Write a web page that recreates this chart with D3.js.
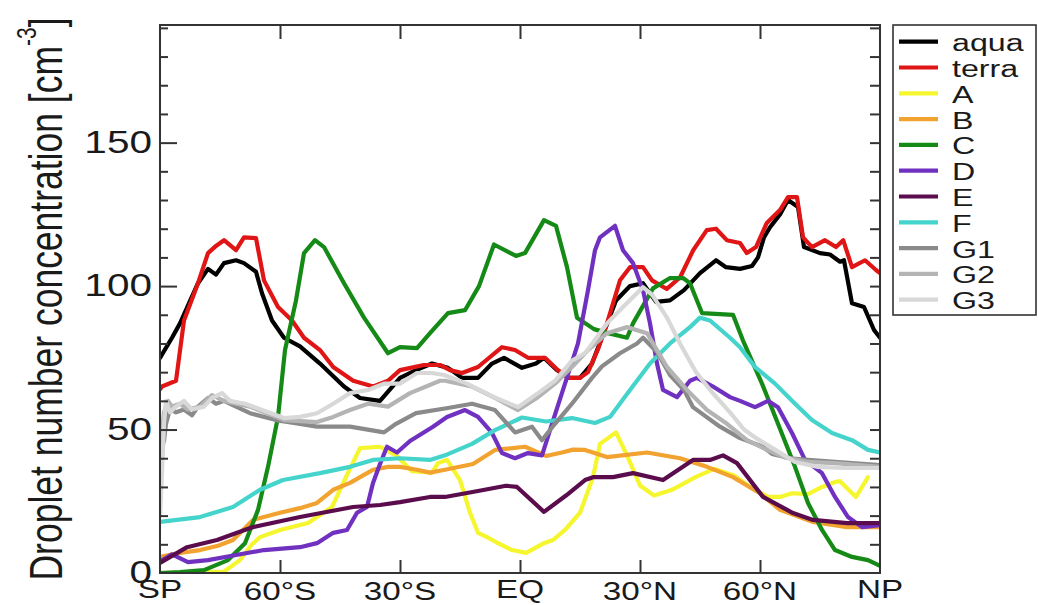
<!DOCTYPE html>
<html>
<head>
<meta charset="utf-8">
<script src="https://cdn.jsdelivr.net/npm/d3@7"></script>
<style>
  html, body { margin: 0; padding: 0; background: #fff; }
  svg { display: block; font-family: "Liberation Sans", Arial, Helvetica, sans-serif; }
</style>
</head>
<body>
<svg id="chart" width="1038" height="605"></svg>
<script>
// ---- data: zonal mean droplet number concentration [cm^-3] vs latitude ----
const latTickValues = [-90, -60, -30, 0, 30, 60, 90];
const latTickLabels = ["SP", "60°S", "30°S", "EQ", "30°N", "60°N", "NP"];
const yMajorTicks = [0, 50, 100, 150];

const aqua = [[-90,75],[-87,82],[-85,87],[-80.5,101],[-78,106],[-76,104],[-74,108],[-71,109],[-69,108],[-66,105],[-64.5,97.5],[-62,88],[-59,82],[-55,79],[-50,73],[-44,65],[-40,61],[-35,60],[-32.5,64],[-30,68],[-26,70.7],[-22,73],[-18,71.5],[-14.5,68],[-10.5,68],[-7,73],[-4,75],[0.5,71.5],[4,73],[6,75],[9,71],[12,68],[15,68],[18,73],[21,84],[24,95],[27.5,100],[30.75,101],[34,94.5],[37.5,95],[41,98.6],[45,104.5],[49,109],[51.5,106.6],[55,106],[58,107],[59.5,110],[61,117],[62.5,120.5],[65,125],[67,130],[69.5,127.6],[71,113.6],[75,111.5],[77.5,111],[80,108.5],[81,109],[83,94],[86,92.7],[88.5,84.7],[90,82]];
const terra = [[-90,64],[-89.5,65],[-86,67],[-84,88],[-80.5,101],[-78,111.5],[-76,114],[-74,116],[-71,112.5],[-69,117],[-66,116.7],[-64,102],[-60.5,92.7],[-57,88],[-54,82],[-50,77.7],[-46.7,71.8],[-41.7,67],[-36.7,65],[-33,67],[-30,70.7],[-24,72.5],[-20,72.5],[-17.5,70.7],[-14.5,69.7],[-10.5,71.8],[-4.5,78.7],[-1.25,77.7],[2,75],[6.25,75],[9.5,70.7],[12,68],[15,68],[17,70],[19.5,78],[21.75,87],[25,102],[27.5,106.6],[30.75,106.6],[33,102],[36.7,99],[40,103],[43.3,112.5],[46.7,119.5],[49,120],[51.7,116],[55,115],[56.7,111.5],[59,113.6],[61.7,122],[65,126.5],[67,131],[69.25,131],[70.75,117],[73,113.6],[76.25,116],[79,113.6],[80.8,116],[83,106.6],[86.25,109],[89,105.6],[90,104.5]];
const modelA = [[-90,0],[-74,0.5],[-70,4.5],[-67,10],[-65,12.5],[-60,15],[-53,17.4],[-47,23],[-43.3,34],[-40,43.5],[-35,44],[-31,41],[-27,35.5],[-22,35],[-20.5,38.3],[-18.25,39.4],[-15,32.4],[-12.5,21],[-10.5,14],[-8.25,12.5],[-6,10.8],[-2,8],[1.5,7],[6,10.4],[8.25,11.5],[11.25,15],[15,21],[18.25,33.4],[20,45],[22,47],[24,49],[26.75,41],[30,30.5],[33.5,27],[38,29],[44,33.5],[48.5,36.3],[53.5,34],[58,29.5],[62,26.5],[65,26.5],[68,27.8],[72,27.5],[75.5,30],[79,31.8],[80,32],[84,26.5],[87,33.4]];
const modelB = [[-90,5.6],[-85,7],[-80,8],[-75.5,9.5],[-71.75,11.5],[-66.75,18.5],[-60,21],[-55,22.6],[-50.75,24.4],[-46.7,29],[-42.5,31.4],[-38,35],[-36.75,36],[-33,37],[-30,37],[-25.75,36],[-22.5,35],[-18.75,36],[-11.75,38],[-6.25,42.9],[1.25,44],[6.5,40.8],[10.5,42],[13.25,43],[16.25,42.9],[21.75,40.4],[31.75,42],[40,40],[46.75,37],[53.25,33.4],[60,27.8],[65,22],[73.25,17.8],[81.75,16],[90,16]];
const modelC = [[-90,0],[-85,0.3],[-79,1],[-73,4.5],[-68.75,10.4],[-65.5,22],[-63,37],[-60.5,54.4],[-58.75,77.7],[-56,95],[-54,111.5],[-51.25,116],[-49,113.6],[-44,101],[-39,89],[-33,76.6],[-30,78.7],[-25.75,78.4],[-22.5,83.6],[-18,90.6],[-13.75,91.6],[-10.25,100],[-6.5,114.5],[-1,110.5],[1.25,111.5],[6,123],[9,121],[11.75,106.6],[14.25,89],[18.5,85],[22,83.6],[26.75,82],[28.25,87],[33.25,99.2],[37.5,102.8],[40.75,102.8],[42.5,101],[45.5,90.6],[53.25,90],[55.75,81],[60.5,66],[64.5,52],[68.75,37],[72,24.4],[75.5,15],[78.75,8],[83,5.6],[87,4.5],[90,2.5]];
const modelD = [[-90,4],[-87,6.5],[-83,3.8],[-78,4.5],[-72,6],[-64,8],[-55,9],[-50.75,10.4],[-46.7,14],[-43.25,15],[-40.75,21],[-38.25,23],[-36.75,31.4],[-35,38],[-33.25,44],[-30.75,42],[-27.5,46],[-21.75,51],[-18.25,54.4],[-13.75,56.8],[-10.5,54.4],[-7,48.8],[-4.5,41.8],[-1.25,40],[2,41.8],[5.5,41],[8,52],[11.25,66],[14.5,80],[17,98.6],[18.75,112.5],[20,117],[23.75,121],[25.75,112.5],[28.25,108],[30.75,98.6],[32.5,87],[34.25,73],[35.75,63.8],[39.25,61.3],[42.5,67],[44.25,68],[48.25,65],[52.5,61.3],[55,60],[58.75,57.8],[62,60],[64.5,57.8],[68,48.8],[71.25,39.4],[75.5,34.8],[78.75,26.5],[82,19.5],[85.5,16],[90,16.7]];
const modelE = [[-90,3.5],[-83.25,9],[-75.75,11.5],[-66.75,16],[-55,19.5],[-41.75,23],[-35,23.7],[-30,24.7],[-22.5,26.5],[-18.75,26.5],[-10.5,28.6],[-3.5,30.4],[-0.75,30],[6,21.3],[11.5,27],[16.25,32.4],[18.25,33.4],[23.25,33.4],[28.25,34.8],[35.75,32.4],[43.25,39.4],[47.5,39.4],[50.75,41],[54.25,38.3],[60.75,26.5],[68.25,20.9],[73.25,18.5],[81.75,17.4],[90,17.4]];
const modelF = [[-90,17.8],[-80,19.5],[-71.75,23],[-65,29],[-59.25,32.4],[-50,34.8],[-42.5,37],[-36.75,39.4],[-30,40],[-22.5,39.4],[-18.75,41],[-12,45],[-6.25,49.8],[0.5,54.2],[6.5,52.8],[13,54],[18.75,52.3],[22.5,54.4],[27.5,63.8],[32.5,73],[37.5,80],[42.5,85.7],[45,89],[47.5,88],[52.5,82],[55,78.7],[58.75,71.8],[63.75,66],[68.75,59],[73,53.3],[78,48.8],[83,46.3],[87,42.9],[90,42]];
const modelG1 = [[-90,42],[-89,46],[-88.5,52],[-87.5,57],[-86,56],[-84,57],[-82,55],[-80.5,58],[-78,61],[-76,59],[-74,60],[-71,58],[-67.5,55.7],[-61,53.3],[-55,52],[-50.75,51],[-42.5,51],[-34,49],[-31,52],[-26,55.7],[-18,57.5],[-12,59],[-6.25,56.8],[-1.25,49],[3,51],[5.5,46.3],[8.75,52],[13,59],[18,68],[20.5,72],[25,76.6],[29.25,80],[30.75,82],[34.25,77],[37.5,69],[41,63.8],[43.25,57.8],[46.5,54.5],[50,51],[55,47],[60.75,44],[63,41.5],[67.5,40],[72,39.4],[78.75,38.7],[90,37.6]];
const modelG2 = [[-90,38],[-89.5,50],[-89,56],[-88,60],[-87,58],[-85,59],[-83,57],[-80,58],[-77,62],[-74,60],[-71,59],[-67.5,58],[-59,53.3],[-50.75,52.6],[-46.7,54.4],[-42.5,56.8],[-38,59],[-33,58],[-27.5,62.7],[-20,67],[-18.75,67],[-12,65],[-6.25,61],[-0.5,56.8],[4.5,61.3],[8.75,66],[13,71.8],[17,77.7],[21.75,83.6],[26.75,85.7],[31.75,83.6],[36.75,71.8],[41.75,63.8],[46.75,56.8],[51.75,52],[56.75,46.3],[61.75,42.9],[66,40.4],[72,38.7],[78.75,38.3],[90,37]];
const modelG3 = [[-90,20],[-89.5,35],[-89,52],[-88.5,60],[-87.5,56],[-86,58],[-84,60],[-82,57],[-79,58],[-77,61],[-74.5,62.7],[-72.5,60],[-68.75,59],[-59,54],[-55,54.4],[-50.75,55.7],[-46.7,59],[-42.5,62.7],[-38,63.8],[-34,66],[-30,66],[-25.75,69.7],[-22,69.7],[-19,69],[-13.25,66],[-6.5,61.3],[-0.5,57.8],[4.5,62.7],[8.75,67],[13,74],[16.25,76.6],[21.75,87],[25.75,92.7],[30.75,99.6],[33,97],[36.75,89],[40,80],[44,70],[48,63],[52.5,56],[56,50],[59,47],[63.75,43],[68.75,38.7],[74.5,37],[81,36.6],[90,36.6]];

const seriesNames = ["aqua", "terra", "A", "B", "C", "D", "E", "F", "G1", "G2", "G3"];
const seriesData = [aqua, terra, modelA, modelB, modelC, modelD, modelE, modelF, modelG1, modelG2, modelG3];

// ---- styling ----
const seriesColors = ["#000000", "#e01515", "#f6f62e", "#f2a22e", "#168a16", "#7030c0", "#5a0c4c", "#45d4cc", "#8a8a8a", "#b4b4b4", "#d8d8d8"];
const TEXT_SX = 1.33;          // horizontal stretch of the lettering
const frameColor = "#333";

const svg = d3.select("#chart");
const plot = { left: 160, right: 880, top: 25, bottom: 573 };

const x = d3.scaleLinear().domain([-90, 90]).range([plot.left, plot.right]);
const y = d3.scaleLinear().domain([0, 191]).range([plot.bottom, plot.top]);

// clip path for the curves
svg.append("defs").append("clipPath").attr("id", "plotClip")
  .append("rect")
  .attr("x", plot.left).attr("y", plot.top)
  .attr("width", plot.right - plot.left).attr("height", plot.bottom - plot.top);

// ---- curves ----
const line = d3.line().x(d => x(d[0])).y(d => y(d[1]));
const curves = svg.append("g").attr("clip-path", "url(#plotClip)");
seriesData.forEach((data, i) => {
  curves.append("path")
    .datum(data)
    .attr("d", line)
    .attr("fill", "none")
    .attr("stroke", seriesColors[i])
    .attr("stroke-width", 4.2)
    .attr("stroke-linejoin", "round")
    .attr("stroke-linecap", "round");
});

// ---- axes (inward ticks) ----
function styleAxis(g) {
  g.select(".domain").remove();
  g.selectAll(".tick line").attr("stroke", frameColor).attr("stroke-width", 2);
}
const minorY = d3.range(10, 191, 10).filter(v => v % 50 !== 0);

svg.append("g").attr("transform", `translate(${plot.left},0)`)
  .call(d3.axisLeft(y).tickValues(minorY).tickSizeInner(-8).tickSizeOuter(0).tickFormat(""))
  .call(styleAxis);

svg.append("g").attr("transform", `translate(${plot.left},0)`)
  .call(d3.axisLeft(y).tickValues(yMajorTicks.filter(v => v > 0)).tickSizeInner(-17).tickSizeOuter(0).tickFormat(""))
  .call(styleAxis);

svg.append("g").attr("transform", `translate(${plot.right},0)`)
  .call(d3.axisRight(y).tickValues(d3.range(10, 191, 10)).tickSizeInner(-10).tickSizeOuter(0).tickFormat(""))
  .call(styleAxis);

const innerLat = latTickValues.slice(1, -1);
svg.append("g").attr("transform", `translate(0,${plot.bottom})`)
  .call(d3.axisBottom(x).tickValues(innerLat).tickSizeInner(-13).tickSizeOuter(0).tickFormat(""))
  .call(styleAxis);
svg.append("g").attr("transform", `translate(0,${plot.top})`)
  .call(d3.axisTop(x).tickValues(innerLat).tickSizeInner(-14).tickSizeOuter(0).tickFormat(""))
  .call(styleAxis);

// frame
svg.append("rect")
  .attr("x", plot.left).attr("y", plot.top)
  .attr("width", plot.right - plot.left).attr("height", plot.bottom - plot.top)
  .attr("fill", "none").attr("stroke", frameColor).attr("stroke-width", 2);

// ---- tick labels ----
const labelColor = "#1a1a1a";
svg.append("g").selectAll("text")
  .data(yMajorTicks)
  .join("text")
  .attr("transform", d => `translate(${plot.left - 8},${y(d) + 10}) scale(${TEXT_SX},1)`)
  .attr("text-anchor", "end")
  .attr("font-size", 30.5)
  .attr("fill", labelColor)
  .text(d => d);

svg.append("g").selectAll("text")
  .data(latTickValues)
  .join("text")
  .attr("transform", (d, i) => {
    const raised = latTickLabels[i].indexOf("°") < 0;
    return `translate(${x(d)},${raised ? 598 : 600}) scale(${TEXT_SX},1)`;
  })
  .attr("text-anchor", "middle")
  .attr("font-size", 25)
  .attr("fill", labelColor)
  .text((d, i) => latTickLabels[i]);

// ---- y-axis title ----
const title = svg.append("text")
  .attr("transform", `translate(62,299) scale(1.3,1) rotate(-90)`)
  .attr("text-anchor", "middle")
  .attr("font-size", 35.5)
  .attr("fill", labelColor);
title.append("tspan").text("Droplet number concentration [cm");
title.append("tspan").attr("font-size", 21).attr("dy", -20).text("-3");
title.append("tspan").attr("dy", 20).text("]");

// ---- legend ----
const legend = svg.append("g");
legend.append("rect")
  .attr("x", 893).attr("y", 25).attr("width", 143).attr("height", 290)
  .attr("fill", "#fff").attr("stroke", frameColor).attr("stroke-width", 1.6);
const rowY = i => 41.7 + i * 25.8;
const rows = legend.selectAll("g.row").data(seriesNames).join("g").attr("class", "row");
rows.append("line")
  .attr("x1", 899).attr("x2", 938)
  .attr("y1", (d, i) => rowY(i)).attr("y2", (d, i) => rowY(i))
  .attr("stroke", (d, i) => seriesColors[i])
  .attr("stroke-width", 4.2);
rows.append("text")
  .attr("transform", (d, i) => `translate(952,${rowY(i) + 9.5}) scale(1.4,1)`)
  .attr("font-size", 23)
  .attr("fill", labelColor)
  .text(d => d);
</script>
</body>
</html>
